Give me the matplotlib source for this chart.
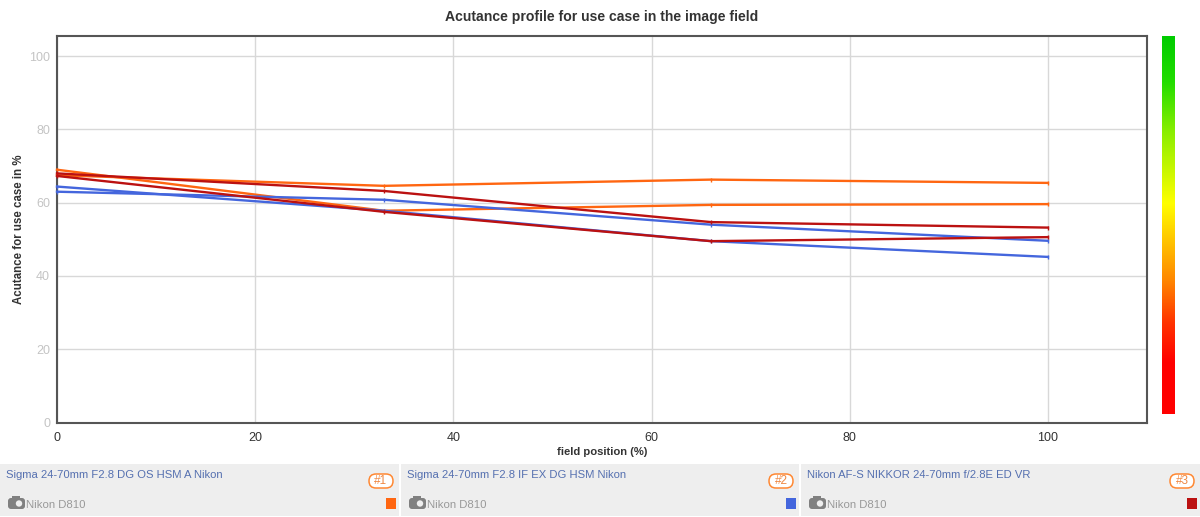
import matplotlib
matplotlib.use('Agg')
import matplotlib.pyplot as plt
import numpy as np
from matplotlib.colors import LinearSegmentedColormap
from matplotlib.patches import Rectangle, FancyBboxPatch, Circle

plt.rcParams['font.family'] = ['Liberation Sans', 'DejaVu Sans']

W, H = 1200, 517

field_pos = [0, 33, 66, 100]
sigma_a = [67.5, 64.6, 66.3, 65.4]
sigma_a2 = [69.0, 57.8, 59.4, 59.6]
sigma_if = [63.0, 60.8, 54.0, 49.6]
sigma_if2 = [64.4, 57.8, 49.5, 45.2]
nikon = [68.0, 63.2, 54.7, 53.2]
nikon2 = [67.3, 57.5, 49.5, 50.6]

lens_names = ['Sigma 24-70mm F2.8 DG OS HSM A Nikon',
              'Sigma 24-70mm F2.8 IF EX DG HSM Nikon',
              'Nikon AF-S NIKKOR 24-70mm f/2.8E ED VR']
ranks = ['#1', '#2', '#3']
camera = 'Nikon D810'
orange = '#ff6611'
blue = '#4466dd'
red = '#bb1111'
lens_colors = [orange, blue, red]

fig = plt.figure(figsize=(W / 100, H / 100), dpi=100, facecolor='white')

ax = fig.add_axes([57 / W, 1 - 422.5 / H, (1147 - 57) / W, (422.5 - 36) / H])
for s in (sigma_a, sigma_a2):
    ax.plot(field_pos, s, color=orange, lw=1.7, marker='|', ms=2.5, clip_on=False, zorder=3)
for s in (sigma_if, sigma_if2):
    ax.plot(field_pos, s, color=blue, lw=1.7, marker='|', ms=2.5, clip_on=False, zorder=4)
for s in (nikon, nikon2):
    ax.plot(field_pos, s, color=red, lw=1.7, marker='|', ms=2.5, clip_on=False, zorder=5)

ax.set_xlim(0, 110)
ax.set_ylim(0, 105.5)
ax.set_xticks([0, 20, 40, 60, 80, 100])
ax.set_yticks([0, 20, 40, 60, 80, 100])
ax.grid(True, color='#d8d8d8', lw=1.0)
ax.set_axisbelow(True)
ax.tick_params(axis='x', length=0, labelsize=9, labelcolor='#333333', pad=7)
ax.tick_params(axis='y', length=0, labelsize=9, labelcolor='#c4c4c4', pad=5)
for sp in ax.spines.values():
    sp.set_color('#555555')
    sp.set_linewidth(1.5)
ax.set_xlabel('field position (%)', fontsize=8.1, fontweight='bold', color='#333333', labelpad=2)
ax.set_ylabel('Acutance for use case in %', fontsize=8.3, fontweight='bold', color='#333333')
ax.yaxis.set_label_coords((25 - 57) / (1147 - 57), 0.5)
fig.text(602 / W, 1 - 17 / H, 'Acutance profile for use case in the image field',
         ha='center', va='center', fontsize=10.1, fontweight='bold', color='#333333')

# colour scale on the right
cax = fig.add_axes([1162 / W, 1 - 414 / H, 13 / W, 378 / H])
cmap = LinearSegmentedColormap.from_list('acut', [(0, '#ff0000'), (0.135, '#ff0000'), (0.24, '#ff3300'),
                                                  (0.355, '#ff8800'), (0.558, '#ffff00'), (0.75, '#88ee00'),
                                                  (0.88, '#22dd00'), (1, '#00cc00')])
cax.imshow(np.linspace(1, 0, 256).reshape(-1, 1), aspect='auto', cmap=cmap)
cax.axis('off')

# lens panels along the bottom, drawn in pixel coords
pan = fig.add_axes([0, 0, 1, 1])
pan.set_xlim(0, W)
pan.set_ylim(H, 0)
pan.axis('off')
pan.patch.set_alpha(0)

panel_x = [(0, 399), (401, 799), (801, 1200)]
for (x0, x1), name, rank, col in zip(panel_x, lens_names, ranks, lens_colors):
    pan.add_patch(Rectangle((x0, 464), x1 - x0, 52, fc='#eeeeee', ec='none'))
    pan.text(x0 + 6, 474.5, name, fontsize=8.1, color='#5570b0', va='center', ha='left')
    pan.add_patch(FancyBboxPatch((x1 - 30, 474), 24, 14, boxstyle='round,pad=0,rounding_size=7',
                                 fc='white', ec='#ff8833', lw=1.1))
    pan.text(x1 - 18, 480.5, rank, fontsize=8.5, color='#ee8844', va='center', ha='center')
    pan.add_patch(Rectangle((x1 - 13, 498), 10, 11, fc=col, ec='none'))
    # small camera icon
    pan.add_patch(FancyBboxPatch((x0 + 8, 498), 17, 11, boxstyle='round,pad=0,rounding_size=3',
                                 fc='#808080', ec='none'))
    pan.add_patch(Rectangle((x0 + 12, 496), 8, 3, fc='#808080', ec='none'))
    pan.add_patch(Circle((x0 + 19, 503.5), 3.2, fc='#eeeeee', ec='none'))
    pan.text(x0 + 26, 505, camera, fontsize=8.2, color='#999999', va='center', ha='left')

fig.savefig('out.png', dpi=100)
